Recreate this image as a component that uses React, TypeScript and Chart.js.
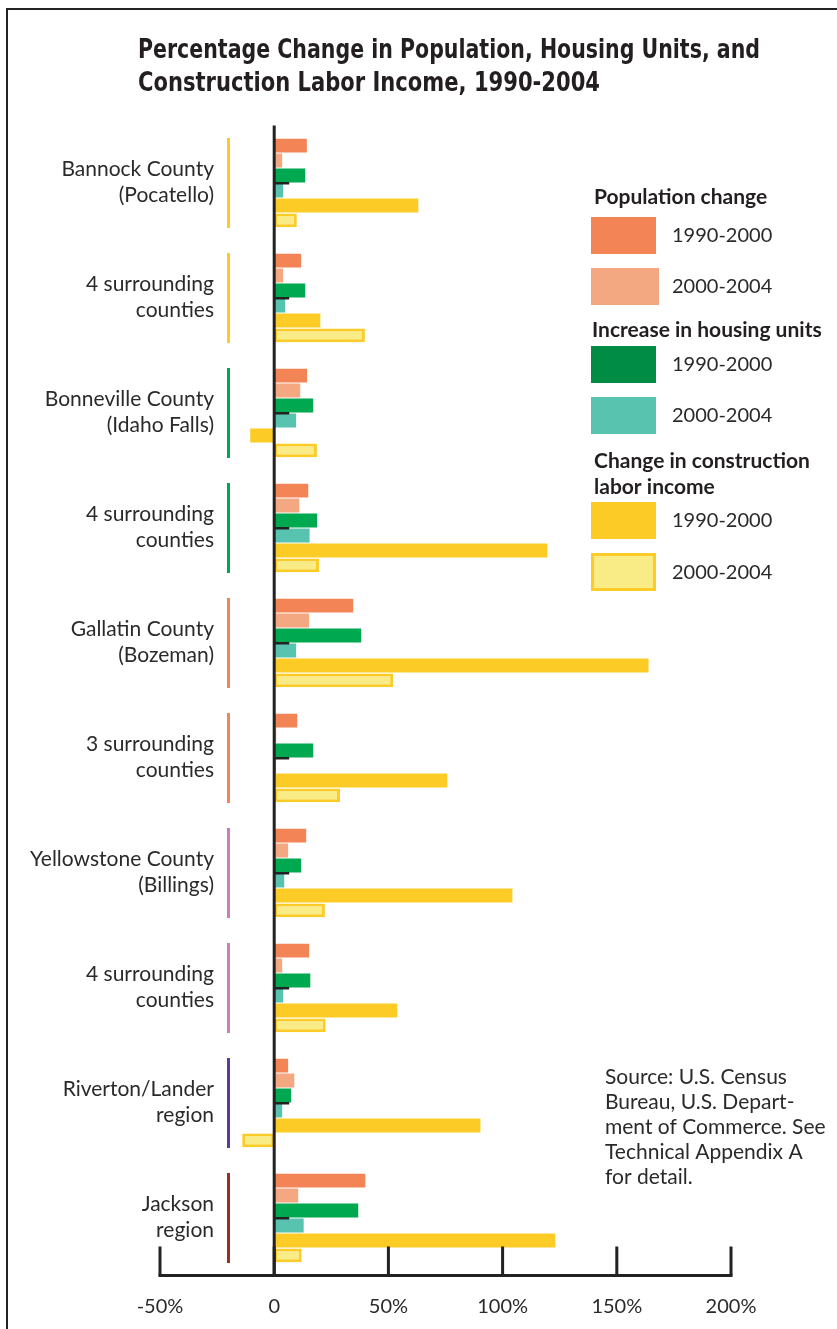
import React, { useEffect, useRef } from "react";
import { Chart, registerables } from "chart.js";

Chart.register(...registerables);

const categories: string[][] = [
  ["Bannock County", "(Pocatello)"],
  ["4 surrounding", "counties"],
  ["Bonneville County", "(Idaho Falls)"],
  ["4 surrounding", "counties"],
  ["Gallatin County", "(Bozeman)"],
  ["3 surrounding", "counties"],
  ["Yellowstone County", "(Billings)"],
  ["4 surrounding", "counties"],
  ["Riverton/Lander", "region"],
  ["Jackson", "region"],
];

const groupColors = [
  "#FCCB25", "#FCCB25", "#00A650", "#00A650", "#F28458",
  "#F28458", "#CC7BBB", "#CC7BBB", "#5B3A9A", "#9B2D22",
];

const pop9000 = [14.3, 11.8, 14.4, 14.9, 34.6, 10.1, 14.0, 15.3, 6.1, 39.9];
const pop0004 = [3.5, 3.9, 11.4, 11.0, 15.3, 0.9, 6.1, 3.5, 8.8, 10.5];
const house9000 = [13.6, 13.6, 17.1, 18.8, 38.1, 17.1, 11.8, 15.8, 7.4, 36.8];
const house0004 = [3.9, 4.8, 9.6, 15.5, 9.6, 0.8, 4.4, 3.9, 3.5, 12.9];
const labor9000 = [63.1, 20.2, -10.5, 119.6, 163.9, 75.8, 104.3, 53.9, 90.3, 123.1];
const labor0004 = [9.9, 39.7, 18.7, 19.6, 52.1, 28.8, 22.2, 22.5, -14.0, 12.0];

const tickValues = [-50, 0, 50, 100, 150, 200];
const tickLabels = ["-50%", "0", "50%", "100%", "150%", "200%"];

const titleLines = [
  "Percentage Change in Population, Housing Units, and",
  "Construction Labor Income, 1990-2004",
];

const sourceLines = [
  "Source: U.S. Census",
  "Bureau, U.S. Depart-",
  "ment of Commerce. See",
  "Technical Appendix A",
  "for detail.",
];

const C = {
  pop1: "#F28456",
  pop2: "#F3A882",
  h1: "#00A84F",
  h1Legend: "#008C44",
  h2: "#58C3AE",
  l1: "#FCCB25",
  l2: "#F9EC87",
  text: "#2a2a2a",
};

const FONT = "Lato, 'Open Sans', sans-serif";
const TITLE_FONT = "'Liberation Sans Narrow', 'DejaVu Sans Condensed', sans-serif";

const decorPlugin = {
  id: "decor",
  beforeDraw(chart: any) {
    const ctx = chart.ctx;
    const y = chart.scales.y;
    ctx.save();
    // frame
    ctx.strokeStyle = "#222";
    ctx.lineWidth = 2;
    ctx.beginPath();
    ctx.moveTo(7, 1329);
    ctx.lineTo(7, 9);
    ctx.lineTo(837, 9);
    ctx.stroke();

    // title
    ctx.fillStyle = "#231f20";
    ctx.font = `bold 26px ${TITLE_FONT}`;
    ctx.textAlign = "left";
    ctx.textBaseline = "middle";
    ctx.fillText(titleLines[0], 138, 51, 622);
    ctx.fillText(titleLines[1], 138, 84, 462);

    // category labels and group bars
    ctx.font = `21px ${FONT}`;
    ctx.textAlign = "right";
    categories.forEach((lines, i) => {
      const cy = y.getPixelForValue(i);
      ctx.fillStyle = C.text;
      ctx.fillText(lines[0], 214, cy - 14);
      ctx.fillText(lines[1], 214, cy + 12);
      ctx.fillStyle = groupColors[i];
      ctx.fillRect(227, cy - 45, 3, 90);
    });
    ctx.restore();
  },
  afterDatasetsDraw(chart: any) {
    const ctx = chart.ctx;
    const x = chart.scales.x;
    const y = chart.scales.y;
    const area = chart.chartArea;
    const x0 = x.getPixelForValue(0);
    ctx.save();
    ctx.fillStyle = "#222";
    // zero line
    ctx.fillRect(x0 - 1.5, area.top, 3, area.bottom - area.top);
    // category ticks
    categories.forEach((_, i) => {
      const cy = y.getPixelForValue(i);
      ctx.fillRect(x0, cy - 1, 15, 2.5);
    });
    // bottom axis
    const xl = x.getPixelForValue(tickValues[0]);
    const xr = x.getPixelForValue(tickValues[tickValues.length - 1]);
    ctx.fillRect(xl - 1.5, area.bottom - 1.5, xr - xl + 3, 3);
    tickValues.forEach((v) => {
      const px = x.getPixelForValue(v);
      ctx.fillRect(px - 1.5, area.bottom - 29, 3, 29);
    });
    ctx.fillStyle = C.text;
    ctx.font = `20px ${FONT}`;
    ctx.textAlign = "center";
    ctx.textBaseline = "middle";
    tickValues.forEach((v, i) => {
      ctx.fillText(tickLabels[i], x.getPixelForValue(v), 1307);
    });

    // legend
    ctx.textAlign = "left";
    ctx.fillStyle = "#231f20";
    ctx.font = `bold 21px ${FONT}`;
    ctx.fillText("Population change", 594, 197);
    ctx.fillText("Increase in housing units", 592, 330);
    ctx.fillText("Change in construction", 594, 461);
    ctx.fillText("labor income", 594, 487);
    const sw = [
      { y: 217, c: C.pop1, label: "1990-2000", w: 65 },
      { y: 268, c: C.pop2, label: "2000-2004", w: 68 },
      { y: 346, c: C.h1Legend, label: "1990-2000", w: 65 },
      { y: 397, c: C.h2, label: "2000-2004", w: 65 },
      { y: 502, c: C.l1, label: "1990-2000", w: 65 },
    ];
    ctx.font = `20px ${FONT}`;
    sw.forEach((s) => {
      ctx.fillStyle = s.c;
      ctx.fillRect(591, s.y, s.w, 37);
      ctx.fillStyle = C.text;
      ctx.fillText(s.label, 672, s.y + 19);
    });
    ctx.fillStyle = C.l2;
    ctx.fillRect(592.5, 554.5, 62, 35);
    ctx.strokeStyle = C.l1;
    ctx.lineWidth = 3;
    ctx.strokeRect(592.5, 554.5, 62, 35);
    ctx.fillStyle = C.text;
    ctx.fillText("2000-2004", 672, 573);

    // source
    ctx.font = `21px ${FONT}`;
    sourceLines.forEach((l, i) => {
      ctx.fillText(l, 605, 1077 + i * 25);
    });
    ctx.restore();
  },
};

export default function App() {
  const ref = useRef<HTMLCanvasElement>(null);
  useEffect(() => {
    if (!ref.current) return;
    const common = { barPercentage: 0.93, categoryPercentage: 0.78, borderWidth: 0 };
    const chart = new Chart(ref.current, {
      type: "bar",
      data: {
        labels: categories.map((c) => c.join(" ")),
        datasets: [
          { label: "Population 1990-2000", data: pop9000, backgroundColor: C.pop1, ...common },
          { label: "Population 2000-2004", data: pop0004, backgroundColor: C.pop2, ...common },
          { label: "Housing 1990-2000", data: house9000, backgroundColor: C.h1, ...common },
          { label: "Housing 2000-2004", data: house0004, backgroundColor: C.h2, ...common },
          { label: "Labor income 1990-2000", data: labor9000, backgroundColor: C.l1, ...common },
          {
            label: "Labor income 2000-2004",
            data: labor0004,
            backgroundColor: C.l2,
            ...common,
            borderWidth: 3,
            borderColor: C.l1,
            borderSkipped: false,
          },
        ],
      },
      options: {
        indexAxis: "y",
        responsive: false,
        maintainAspectRatio: false,
        animation: false,
        layout: { padding: { left: 160, right: 106, top: 125.5, bottom: 53.5 } },
        plugins: { legend: { display: false }, tooltip: { enabled: false }, title: { display: false } },
        scales: {
          x: { type: "linear", min: -50, max: 200, display: false },
          y: { type: "category", display: false, offset: true },
        },
      },
      plugins: [decorPlugin],
    } as any);
    return () => chart.destroy();
  }, []);
  return (
    <div style={{ position: "absolute", left: 0, top: 0, width: 837, height: 1329 }}>
      <canvas ref={ref} width={837} height={1329} style={{ display: "block" }} />
    </div>
  );
}
